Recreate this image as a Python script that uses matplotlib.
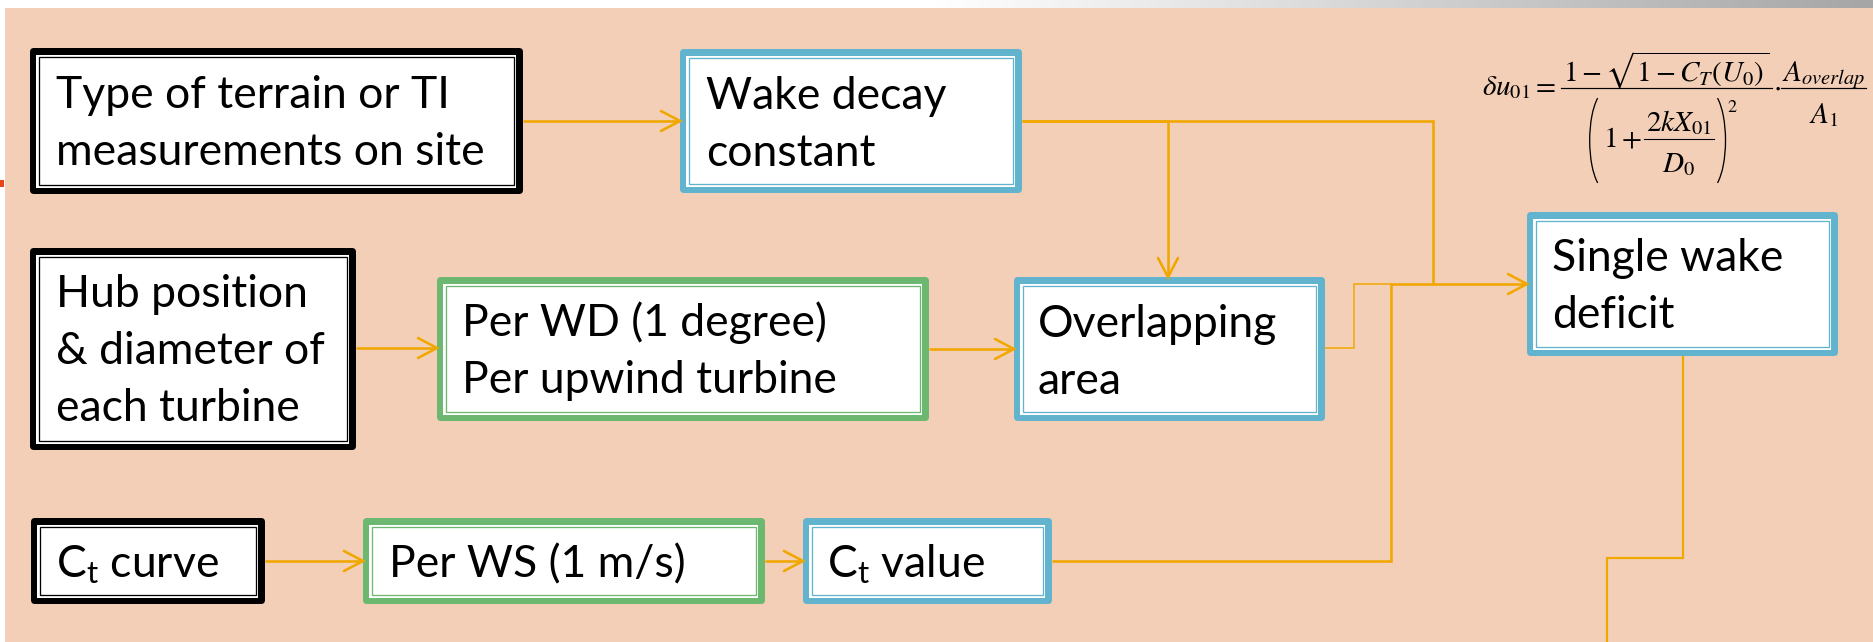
import numpy as np
import matplotlib
matplotlib.use("Agg")
import matplotlib.pyplot as plt
from matplotlib.patches import FancyBboxPatch, Rectangle, Arc
from matplotlib.colors import LinearSegmentedColormap

plt.rcParams["font.family"] = ["Lato", "DejaVu Sans"]
plt.rcParams["mathtext.fontset"] = "custom"
plt.rcParams["mathtext.rm"] = "Lato"
plt.rcParams["mathtext.it"] = "Lato:italic"
plt.rcParams["mathtext.bf"] = "Lato:bold"

# ---------------- content ----------------
box_ids = ["terrain", "wake_decay", "hub", "per_wd", "overlap",
           "single_wake", "ct_curve", "per_ws", "ct_value"]
box_lines = [
    ["Type of terrain or TI", "measurements on site"],
    ["Wake decay", "constant"],
    ["Hub position", "& diameter of", "each turbine"],
    ["Per WD (1 degree)", "Per upwind turbine"],
    ["Overlapping", "area"],
    ["Single wake", "deficit"],
    [r"C$_\mathregular{t}$ curve"],
    ["Per WS (1 m/s)"],
    [r"C$_\mathregular{t}$ value"],
]
box_roles = ["input", "result", "input", "loop", "result",
             "result", "input", "loop", "result"]
links = [("terrain", "wake_decay"), ("hub", "per_wd"), ("per_wd", "overlap"),
         ("ct_curve", "per_ws"), ("per_ws", "ct_value"),
         ("wake_decay", "overlap"), ("wake_decay", "single_wake"),
         ("overlap", "single_wake"), ("ct_value", "single_wake"),
         ("single_wake", "next")]

# single-wake deficit formula, as its typeset pieces
formula_lhs = r"$\delta u_{01} =$"
formula_num = r"$1-\sqrt{1-C_T(U_0)}$"
formula_den_one = r"$1+$"
formula_den_frac_num = r"$2kX_{01}$"
formula_den_frac_den = r"$D_0$"
formula_den_power = r"$2$"
formula_dot = r"$\cdot$"
formula_area_num = r"$A_{overlap}$"
formula_area_den = r"$A_1$"

# ---------------- layout / style ----------------
W, H = 1874, 642
BG = "#F4CFB7"
ORANGE = "#F0A800"
ROLE_COLOR = {"input": "#000000", "loop": "#6CB870", "result": "#62B4CE"}

RECT = {  # x0, y0, x1, y1 (pixels, y downward)
    "terrain": (30, 48, 523, 194),
    "wake_decay": (680, 49, 1022, 193),
    "hub": (30, 248, 356, 450),
    "per_wd": (437, 277, 929, 421),
    "overlap": (1014, 277, 1325, 421),
    "single_wake": (1527, 212, 1838, 356),
    "ct_curve": (31, 518, 265, 604),
    "per_ws": (363, 518, 765, 604),
    "ct_value": (803, 518, 1052, 604),
}
TEXT_AT = {  # x, first baseline
    "terrain": (56, 108),
    "wake_decay": (706, 109),
    "hub": (56, 307),
    "per_wd": (462, 336),
    "overlap": (1038, 337),
    "single_wake": (1552, 271),
    "ct_curve": (56, 577),
    "per_ws": (389, 577),
    "ct_value": (827, 577),
}
LINE_GAP = 57
FONT_PT = 32

ROUTES = {  # waypoints, line width (px), arrowhead at end
    ("terrain", "wake_decay"): ([(523, 121), (680, 121)], 2.6, True),
    ("hub", "per_wd"): ([(356, 348), (437, 348)], 2.6, True),
    ("per_wd", "overlap"): ([(929, 349), (1014, 349)], 2.6, True),
    ("ct_curve", "per_ws"): ([(265, 561), (363, 561)], 2.6, True),
    ("per_ws", "ct_value"): ([(765, 561), (803, 561)], 2.6, True),
    ("wake_decay", "overlap"): ([(1022, 121), (1168, 121), (1168, 277)], 2.6, True),
    ("wake_decay", "single_wake"): ([(1022, 121), (1433, 121), (1433, 284), (1527, 284)], 2.6, True),
    ("overlap", "single_wake"): ([(1325, 348), (1354, 348), (1354, 284), (1392, 284)], 1.5, False),
    ("ct_value", "single_wake"): ([(1052, 561), (1391, 561), (1391, 284), (1433, 284)], 2.6, False),
    ("single_wake", "next"): ([(1683, 356), (1683, 558), (1607, 558), (1607, 642)], 2.2, False),
}

PX = 72.0 / 100.0  # points per pixel at dpi 100

fig = plt.figure(figsize=(W / 100, H / 100), dpi=100)
ax = fig.add_axes([0, 0, 1, 1])

# background
ax.add_patch(Rectangle((0, 0), W, H, fc="white", ec="none", zorder=0))
ax.add_patch(Rectangle((5, 8), W - 5, H - 8, fc=BG, ec="none", zorder=0.5))
grad_cmap = LinearSegmentedColormap.from_list("band", ["#FFFFFF", "#FFFFFF", "#A6A6A6"])
grad = np.linspace(0, 1, 400)[None, :]
ax.imshow(grad, extent=[0, W, 8, 0], cmap=grad_cmap, aspect="auto", zorder=0.6)
ax.add_patch(Rectangle((0, 180), 4, 7, fc="#E8441A", ec="none", zorder=0.7))
ax.set_xlim(0, W)
ax.set_ylim(H, 0)
ax.axis("off")

# connectors (under boxes)
for link in links:
    pts, lw, arrow = ROUTES[link]
    xs = [p[0] for p in pts]
    ys = [p[1] for p in pts]
    ax.plot(xs, ys, color=ORANGE, lw=lw * PX, solid_joinstyle="miter",
            solid_capstyle="butt", zorder=1)
    if arrow:
        (x0, y0), (x1, y1) = pts[-2], pts[-1]
        d = np.array([x1 - x0, y1 - y0], float)
        d /= np.hypot(*d)
        n = np.array([-d[1], d[0]])
        tip = np.array([x1, y1], float)
        a1 = tip - 19 * d + 10 * n
        a2 = tip - 19 * d - 10 * n
        ax.plot([a1[0], tip[0], a2[0]], [a1[1], tip[1], a2[1]], color=ORANGE,
                lw=lw * PX, solid_joinstyle="miter", solid_capstyle="round", zorder=4)

# boxes
for bid, lines, role in zip(box_ids, box_lines, box_roles):
    x0, y0, x1, y1 = RECT[bid]
    c = ROLE_COLOR[role]
    ax.add_patch(FancyBboxPatch((x0, y0), x1 - x0, y1 - y0,
                                boxstyle="round,pad=0,rounding_size=4",
                                fc=c, ec="none", zorder=2))
    t = 6.5
    ax.add_patch(Rectangle((x0 + t, y0 + t), x1 - x0 - 2 * t, y1 - y0 - 2 * t,
                           fc="white", ec="none", zorder=2.1))
    g = 8.6
    ax.add_patch(Rectangle((x0 + g, y0 + g), x1 - x0 - 2 * g, y1 - y0 - 2 * g,
                           fc="none", ec=c, lw=1.3 * PX, zorder=2.2))
    tx, tb = TEXT_AT[bid]
    for i, line in enumerate(lines):
        ax.text(tx, tb + i * LINE_GAP, line, fontsize=FONT_PT, color="black",
                ha="left", va="baseline", zorder=3)

# formula (typeset piecewise, positions from measured widths)
renderer = fig.canvas.get_renderer()
FS = 21
fkw = dict(math_fontfamily="stix", color="black", va="baseline", ha="left", zorder=3)


def put(x, y, s, fs=FS):
    t = ax.text(x, y, s, fontsize=fs, **fkw)
    bb = t.get_window_extent(renderer)
    return t, bb.width


BAR_Y = 88
x = 1482
_, w = put(x, 95, formula_lhs)
x += w + 5
num_t, wn = put(0, 81, formula_num)
bar0 = x
bar1 = x + wn + 4
num_t.set_x(bar0 + 2)
ax.plot([bar0, bar1], [BAR_Y, BAR_Y], color="black", lw=1.2 * PX, zorder=3)

# denominator group: ( 1 + frac ) ^2
one_t, w1 = put(0, 147, formula_den_one)
fn_t, wfn = put(0, 131, formula_den_frac_num)
fd_t, wfd = put(0, 172, formula_den_frac_den)
pw_t, wpw = put(0, 112, formula_den_power, fs=13)
fw = max(wfn, wfd) + 4
PAR_W = 10
group_w = PAR_W + 3 + w1 + 2 + fw + 2 + PAR_W + 1 + wpw
gx = (bar0 + bar1) / 2 - group_w / 2 - 3
lp_x = gx
one_t.set_x(lp_x + PAR_W + 3)
fx0 = lp_x + PAR_W + 3 + w1 + 2
fn_t.set_x(fx0 + (fw - wfn) / 2)
fd_t.set_x(fx0 + (fw - wfd) / 2)
ax.plot([fx0, fx0 + fw], [139, 139], color="black", lw=1.1 * PX, zorder=3)
rp_x = fx0 + fw + 2
pw_t.set_x(rp_x + PAR_W + 1)
A_R = 17
ax.add_patch(Arc((lp_x + A_R, 140.5), 2 * A_R, 100, theta1=102, theta2=258,
                 color="black", lw=1.3 * PX, zorder=3))
ax.add_patch(Arc((rp_x + PAR_W - A_R, 140.5), 2 * A_R, 100, theta1=-78, theta2=78,
                 color="black", lw=1.3 * PX, zorder=3))

# multiplication dot and area ratio
dot_t, wd = put(bar1 + 1, 95, formula_dot)
ax_ = bar1 + wd + 2
an_t, wan = put(ax_ + 1, 81, formula_area_num)
ax.plot([ax_, ax_ + wan + 2], [BAR_Y, BAR_Y], color="black", lw=1.2 * PX, zorder=3)
ad_t, wad = put(0, 123, formula_area_den)
ad_t.set_x(ax_ + (wan + 2 - wad) / 2)

fig.savefig("out.png", dpi=100)
